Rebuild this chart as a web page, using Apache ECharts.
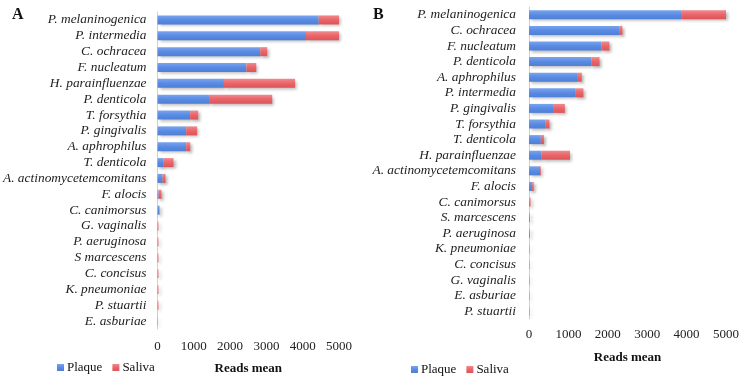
<!DOCTYPE html>
<html>
<head>
<meta charset="utf-8">
<script src="https://cdn.jsdelivr.net/npm/echarts@6/dist/echarts.min.js"></script>
<style>html,body{margin:0;padding:0;background:#fff;}#c{width:746px;height:380px;}</style>
</head>
<body>
<div id="c"></div>
<script>
var catsA = ['P. melaninogenica','P. intermedia','C. ochracea','F. nucleatum','H. parainfluenzae','P. denticola','T. forsythia','P. gingivalis','A. aphrophilus','T. denticola','A. actinomycetemcomitans','F. alocis','C. canimorsus','G. vaginalis','P. aeruginosa','S marcescens','C. concisus','K. pneumoniae','P. stuartii','E. asburiae'];
var plaqueA = [4440,4090,2830,2450,1830,1420,900,790,790,160,140,30,50,5,5,5,5,5,5,5];
var salivaA = [600,950,190,270,1960,1740,220,300,110,280,80,80,10,20,20,20,20,20,20,5];

var catsB = ['P. melaninogenica','C. ochracea','F. nucleatum','P. denticola','A. aphrophilus','P. intermedia','P. gingivalis','T. forsythia','T. denticola','H. parainfluenzae','A. actinomycetemcomitans','F. alocis','C. canimorsus','S. marcescens','P. aeruginosa','K. pneumoniae','C. concisus','G. vaginalis','E. asburiae','P. stuartii'];
var plaqueB = [3860,2300,1840,1580,1220,1170,630,410,300,320,280,80,10,5,5,5,5,5,5,5];
var salivaB = [1160,70,200,210,120,210,280,110,80,720,20,40,30,20,20,5,5,5,5,5];

var xTicks = [0,1000,2000,3000,4000,5000];

var serif = '"Liberation Serif", "DejaVu Serif", serif';
var blue = new echarts.graphic.LinearGradient(0,0,0,1,[{offset:0,color:'#79A3EE'},{offset:0.5,color:'#5A8BE3'},{offset:1,color:'#4E7FD6'}]);
var red = new echarts.graphic.LinearGradient(0,0,0,1,[{offset:0,color:'#F08A8D'},{offset:0.5,color:'#EA6468'},{offset:1,color:'#DC5458'}]);
var shadow = {shadowColor:'rgba(0,0,0,0.28)', shadowBlur:3, shadowOffsetX:2, shadowOffsetY:2};

function xAx(gi, gap, margin){
  return {
    gridIndex: gi, type:'value', min:xTicks[0], max:xTicks[xTicks.length-1], interval:1000,
    axisLine:{show:false}, axisTick:{show:false}, splitLine:{show:false},
    axisLabel:{color:'#222', fontFamily:serif, fontSize:13, margin:margin,
      formatter:function(v){return xTicks.indexOf(v)>=0 ? String(v) : '';}},
    name:'Reads mean', nameLocation:'middle', nameGap:gap,
    nameTextStyle:{color:'#111', fontFamily:serif, fontSize:13, fontWeight:'bold'}
  };
}
function yAx(gi, cats, margin){
  return {
    gridIndex: gi, type:'category', data:cats, inverse:true,
    axisLine:{show:true, lineStyle:{color:'#C9D1DD', width:1}},
    axisTick:{show:false}, splitLine:{show:false},
    axisLabel:{color:'#222', fontFamily:serif, fontStyle:'italic', fontSize:13.4, margin:margin, interval:0}
  };
}
function bar(name, xi, data, color){
  return {
    name:name, type:'bar', stack:'s'+xi, xAxisIndex:xi, yAxisIndex:xi, data:data,
    barWidth:9, itemStyle:Object.assign({color:color}, shadow), silent:true
  };
}

var chart = echarts.init(document.getElementById('c'), null, {renderer:'canvas'});
chart.setOption({
  animation:false,
  backgroundColor:'#fff',
  title:[
    {text:'A', left:7, top:2, textStyle:{fontFamily:serif, fontSize:16, fontWeight:'bold', color:'#111'}},
    {text:'B', left:368, top:2, textStyle:{fontFamily:serif, fontSize:16, fontWeight:'bold', color:'#111'}}
  ],
  grid:[
    {left:156, width:183, top:12, height:318},
    {left:529, width:197, top:7, height:312}
  ],
  xAxis:[xAx(0,33,11), xAx(1,32,9)],
  yAxis:[yAx(0,catsA,11), yAx(1,catsB,13)],
  legend:[
    {left:52, top:356, itemWidth:7, itemHeight:7, itemGap:10, icon:'rect',
     textStyle:{fontFamily:serif, fontSize:13, color:'#111', padding:[0,0,0,-2]},
     data:['Plaque','Saliva']},
    {left:406, top:358, itemWidth:7, itemHeight:7, itemGap:10, icon:'rect',
     textStyle:{fontFamily:serif, fontSize:13, color:'#111', padding:[0,0,0,-2]},
     data:['Plaque','Saliva']}
  ],
  series:[
    bar('Plaque',0,plaqueA,blue),
    bar('Saliva',0,salivaA,red),
    bar('Plaque',1,plaqueB,blue),
    bar('Saliva',1,salivaB,red)
  ]
});
</script>
</body>
</html>
